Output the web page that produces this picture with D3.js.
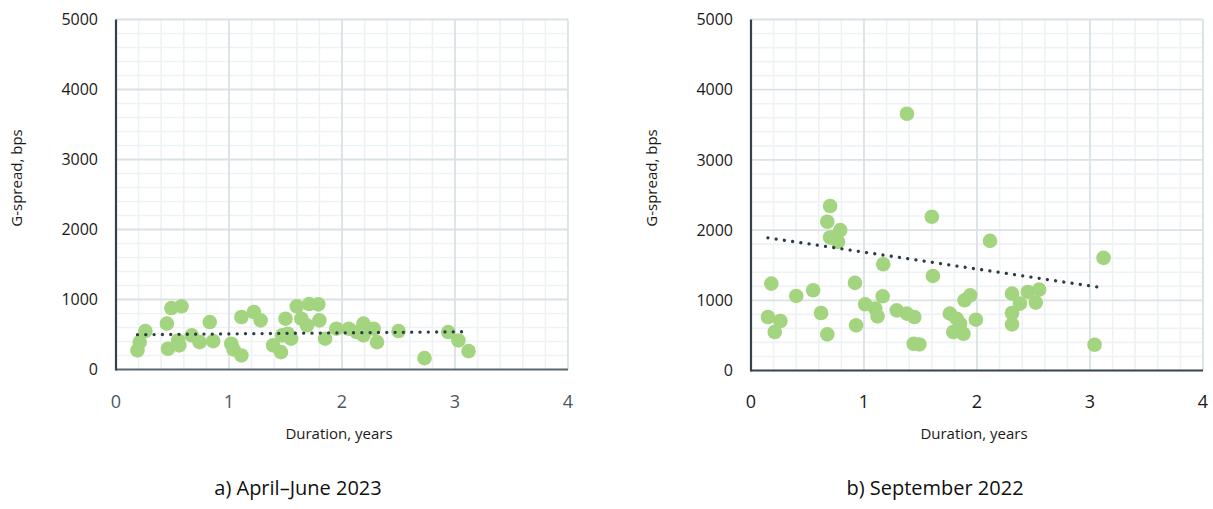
<!DOCTYPE html>
<html>
<head>
<meta charset="utf-8">
<script src="https://cdn.jsdelivr.net/npm/d3@7"></script>
<style>
  html, body { margin: 0; padding: 0; background: #fff; }
  svg { display: block; font-family: "Open Sans", "Noto Sans", sans-serif; }
</style>
</head>
<body>
<svg id="chart" width="1213" height="509"></svg>
<script>
// ---- Data ----
const xTicks = [0, 1, 2, 3, 4];
const yTicks = [0, 1000, 2000, 3000, 4000, 5000];

// a) April–June 2023
const aprDuration = [0.19,0.21,0.26,0.45,0.46,0.49,0.55,0.56,0.58,0.67,0.74,0.83,0.86,1.02,1.04,1.11,1.11,1.22,1.28,1.39,1.46,1.47,1.50,1.52,1.55,1.60,1.64,1.69,1.71,1.79,1.80,1.85,1.95,2.06,2.13,2.19,2.19,2.28,2.31,2.50,2.73,2.94,3.03,3.12];
const aprSpread   = [272,391,549,655,296,878,415,344,903,487,391,678,405,368,287,201,750,821,702,344,248,487,726,511,440,903,726,630,935,930,702,440,583,583,535,655,487,583,391,549,162,535,415,262];
const aprTrendX = [0.19, 3.11];
const aprTrendY = [497, 540];

// b) September 2022
const sepDuration = [0.15,0.18,0.21,0.26,0.40,0.55,0.62,0.675,0.675,0.70,0.70,0.73,0.77,0.79,0.92,0.93,1.01,1.10,1.12,1.165,1.17,1.29,1.38,1.38,1.445,1.44,1.49,1.60,1.61,1.76,1.79,1.82,1.85,1.88,1.89,1.94,1.99,2.115,2.31,2.31,2.31,2.38,2.45,2.52,2.55,3.04,3.12];
const sepSpread   = [762,1238,548,705,1062,1143,819,514,2119,2343,1895,1895,1833,2000,1248,643,943,881,771,1057,1514,857,3657,810,762,381,371,2190,1347,810,548,738,667,524,1000,1071,724,1847,1095,819,657,952,1119,967,1152,367,1604];
const sepTrendX = [0.15, 3.12];
const sepTrendY = [1890, 1176];

const xLabel = "Duration, years";
const yLabel = "G-spread, bps";
const captions = ["a) April–June 2023", "b) September 2022"];

// ---- Drawing ----
const svg = d3.select("#chart");

const panels = [
  { x0: 116, x1: 568, y0: 369.5, y1: 19.5, dur: aprDuration, spr: aprSpread, tx: aprTrendX, ty: aprTrendY,
    cap: captions[0], capX: 298, ylabX: 22, xTickColor: "#4a5861", bottomAxisColor: "#5c676e", yTickEnd: 98 },
  { x0: 751, x1: 1203, y0: 370.5, y1: 19.5, dur: sepDuration, spr: sepSpread, tx: sepTrendX, ty: sepTrendY,
    cap: captions[1], capX: 935, ylabX: 657, xTickColor: "#1a1a1a", bottomAxisColor: "#37444c", yTickEnd: 733 }
];

panels.forEach(p => {
  const x = d3.scaleLinear().domain([0, 4]).range([p.x0, p.x1]);
  const y = d3.scaleLinear().domain([0, 5000]).range([p.y0, p.y1]);
  const g = svg.append("g");

  // minor grid
  const minorX = d3.range(0, 4.0001, 0.2).filter(v => Math.abs(v - Math.round(v)) > 1e-6);
  const minorY = d3.range(0, 5000.1, 200).filter(v => v % 1000 !== 0);
  g.append("g").selectAll("line").data(minorX).join("line")
    .attr("x1", d => x(d)).attr("x2", d => x(d)).attr("y1", y(0)).attr("y2", y(5000))
    .attr("stroke", "#edf2f4").attr("stroke-width", 1.6);
  g.append("g").selectAll("line").data(minorY).join("line")
    .attr("x1", x(0)).attr("x2", x(4)).attr("y1", d => y(d)).attr("y2", d => y(d))
    .attr("stroke", "#edf2f4").attr("stroke-width", 1.6);
  // major grid
  g.append("g").selectAll("line").data(xTicks.slice(1)).join("line")
    .attr("x1", d => x(d)).attr("x2", d => x(d)).attr("y1", y(0)).attr("y2", y(5000))
    .attr("stroke", "#dae2e6").attr("stroke-width", 1.8);
  g.append("g").selectAll("line").data(yTicks.slice(1)).join("line")
    .attr("x1", x(0)).attr("x2", x(4)).attr("y1", d => y(d)).attr("y2", d => y(d))
    .attr("stroke", "#dae2e6").attr("stroke-width", 1.8);

  // axes lines
  g.append("line").attr("x1", x(0)).attr("x2", x(4)).attr("y1", y(0)).attr("y2", y(0))
    .attr("stroke", p.bottomAxisColor).attr("stroke-width", 2.2);
  g.append("line").attr("x1", x(0)).attr("x2", x(0)).attr("y1", y(0) + 1).attr("y2", y(5000))
    .attr("stroke", "#34424b").attr("stroke-width", 2.2);

  // points
  const pts = p.dur.map((d, i) => ({ d, s: p.spr[i] }));
  g.append("g").selectAll("circle").data(pts).join("circle")
    .attr("cx", d => x(d.d)).attr("cy", d => y(d.s)).attr("r", 7.3)
    .attr("fill", "#a3d47f");

  // trend line (dotted)
  const tl = p.tx.map((v, i) => [v, p.ty[i]]);
  g.append("path").datum(tl)
    .attr("d", d3.line().x(d => x(d[0])).y(d => y(d[1])))
    .attr("fill", "none").attr("stroke", "#2f3c45").attr("stroke-width", 3.3)
    .attr("stroke-linecap", "round").attr("stroke-dasharray", "0.01 8.3");

  // y tick labels
  g.append("g").selectAll("text").data(yTicks).join("text")
    .attr("x", p.yTickEnd).attr("y", d => y(d)).attr("dy", "0.36em")
    .attr("text-anchor", "end").attr("font-size", 16).attr("fill", "#1a1a1a")
    .text(d => d);
  // x tick labels
  g.append("g").selectAll("text").data(xTicks).join("text")
    .attr("x", d => x(d)).attr("y", 408)
    .attr("text-anchor", "middle").attr("font-size", 18).attr("fill", p.xTickColor)
    .text(d => d);

  // axis titles
  g.append("text").attr("x", (p.x0 + p.x1) / 2 - 3).attr("y", 439)
    .attr("text-anchor", "middle").attr("font-size", 15).attr("fill", "#1a1a1a")
    .text(xLabel);
  g.append("text").attr("transform", `translate(${p.ylabX},178) rotate(-90)`)
    .attr("text-anchor", "middle").attr("font-size", 15).attr("fill", "#1a1a1a")
    .text(yLabel);

  // caption
  g.append("text").attr("x", p.capX).attr("y", 495)
    .attr("text-anchor", "middle").attr("font-size", 20).attr("fill", "#111")
    .text(p.cap);
});
</script>
</body>
</html>
